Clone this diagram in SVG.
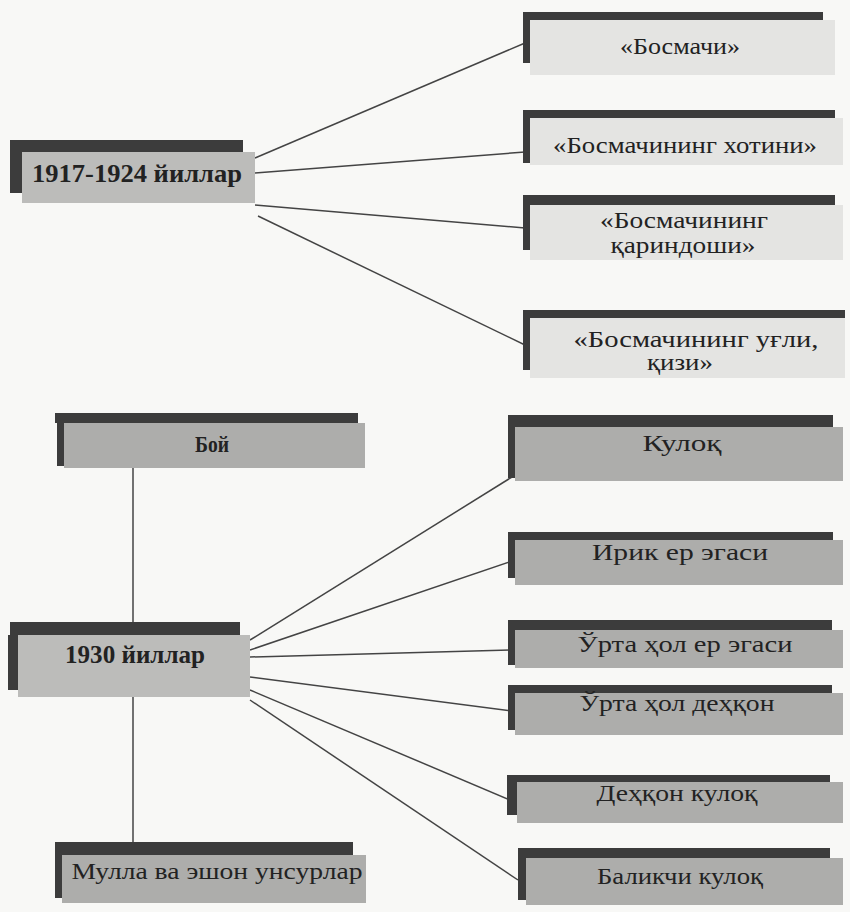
<svg xmlns="http://www.w3.org/2000/svg" width="850" height="912" viewBox="0 0 850 912">
<style>
.bg{fill:#f8f8f6}
.bar{fill:#3c3c3c}
.lite{fill:#e4e4e2}
.mid{fill:#bcbcba}
.dark{fill:#adadab}
.t{font-family:"Liberation Serif","Times New Roman",serif;font-size:23px;fill:#222;text-anchor:middle}
.b{font-weight:bold;font-size:25px}
.c{stroke:#444;stroke-width:1.5;fill:none}
</style>
<rect class="bg" x="0" y="0" width="850" height="912"/>
<g id="connectors">
<line class="c" x1="255" y1="158" x2="525" y2="43"/>
<line class="c" x1="255" y1="173" x2="525" y2="152"/>
<line class="c" x1="255" y1="205" x2="525" y2="228"/>
<line class="c" x1="258" y1="216" x2="525" y2="345"/>
<line class="c" x1="133" y1="468" x2="133" y2="622"/>
<line class="c" x1="133" y1="697" x2="133" y2="845"/>
<line class="c" x1="250" y1="640" x2="512" y2="477"/>
<line class="c" x1="250" y1="650" x2="512" y2="561"/>
<line class="c" x1="250" y1="657" x2="512" y2="650"/>
<line class="c" x1="250" y1="677" x2="512" y2="711"/>
<line class="c" x1="250" y1="690" x2="510" y2="800"/>
<line class="c" x1="250" y1="700" x2="518" y2="880"/>
</g>
<g id="n1917">
<rect class="bar" x="10" y="140" width="233" height="12"/>
<rect class="bar" x="10" y="152" width="12" height="41"/>
<rect class="mid" x="22" y="152" width="233" height="51"/>
<text class="t b" x="137" y="182" textLength="210" lengthAdjust="spacingAndGlyphs">1917-1924 йиллар</text>
</g>
<g id="bosmachi">
<rect class="bar" x="523" y="12" width="300" height="8"/>
<rect class="bar" x="523" y="20" width="7" height="43"/>
<rect class="lite" x="530" y="20" width="305" height="55"/>
<text class="t" x="680" y="54" textLength="120" lengthAdjust="spacingAndGlyphs">«Босмачи»</text>
</g>
<g id="xotini">
<rect class="bar" x="523" y="110" width="312" height="8"/>
<rect class="bar" x="523" y="118" width="7" height="45"/>
<rect class="lite" x="530" y="118" width="313" height="47"/>
<text class="t" x="685" y="153" textLength="264" lengthAdjust="spacingAndGlyphs">«Босмачининг хотини»</text>
</g>
<g id="qarindoshi">
<rect class="bar" x="523" y="195" width="312" height="10"/>
<rect class="bar" x="523" y="205" width="7" height="45"/>
<rect class="lite" x="530" y="205" width="313" height="55"/>
<text class="t" x="684" y="228" textLength="168" lengthAdjust="spacingAndGlyphs">«Босмачининг</text>
<text class="t" x="683" y="253" textLength="145" lengthAdjust="spacingAndGlyphs">қариндоши»</text>
</g>
<g id="ugli">
<rect class="bar" x="523" y="310" width="322" height="8"/>
<rect class="bar" x="523" y="318" width="7" height="52"/>
<rect class="lite" x="530" y="318" width="315" height="60"/>
<text class="t" x="696" y="347" textLength="245" lengthAdjust="spacingAndGlyphs">«Босмачининг уғли,</text>
<text class="t" x="680" y="370" textLength="66" lengthAdjust="spacingAndGlyphs">қизи»</text>
</g>
<g id="boy">
<rect class="bar" x="55" y="413" width="303" height="10"/>
<rect class="bar" x="57" y="423" width="9" height="43"/>
<rect class="dark" x="64" y="423" width="301" height="45"/>
<text class="t" x="212" y="452" font-weight="bold" textLength="34" lengthAdjust="spacingAndGlyphs">Бой</text>
</g>
<g id="n1930">
<rect class="bar" x="10" y="622" width="230" height="13"/>
<rect class="bar" x="8" y="635" width="10" height="55"/>
<rect class="mid" x="18" y="635" width="232" height="62"/>
<text class="t b" x="135" y="663" textLength="140" lengthAdjust="spacingAndGlyphs">1930 йиллар</text>
</g>
<g id="mulla">
<rect class="bar" x="55" y="842" width="298" height="13"/>
<rect class="bar" x="55" y="855" width="8" height="43"/>
<rect class="dark" x="62" y="855" width="304" height="48"/>
<text class="t" x="217" y="879" textLength="291" lengthAdjust="spacingAndGlyphs">Мулла ва эшон унсурлар</text>
</g>
<g id="qulok">
<rect class="bar" x="508" y="415" width="325" height="12"/>
<rect class="bar" x="508" y="427" width="10" height="51"/>
<rect class="dark" x="515" y="427" width="328" height="54"/>
<text class="t" x="682" y="451" textLength="79" lengthAdjust="spacingAndGlyphs">Кулоқ</text>
</g>
<g id="irik">
<rect class="bar" x="508" y="532" width="325" height="8"/>
<rect class="bar" x="508" y="540" width="9" height="38"/>
<rect class="dark" x="515" y="540" width="328" height="45"/>
<text class="t" x="680" y="560" textLength="176" lengthAdjust="spacingAndGlyphs">Ирик ер эгаси</text>
</g>
<g id="urtaer">
<rect class="bar" x="508" y="620" width="324" height="10"/>
<rect class="bar" x="508" y="630" width="10" height="35"/>
<rect class="dark" x="515" y="630" width="328" height="38"/>
<text class="t" x="685" y="652" textLength="215" lengthAdjust="spacingAndGlyphs">Ўрта ҳол ер эгаси</text>
</g>
<g id="urtadehqon">
<rect class="bar" x="508" y="685" width="324" height="8"/>
<rect class="bar" x="508" y="693" width="10" height="37"/>
<rect class="dark" x="515" y="693" width="328" height="42"/>
<text class="t" x="677" y="711" textLength="195" lengthAdjust="spacingAndGlyphs">Ўрта ҳол деҳқон</text>
</g>
<g id="dehqonqulok">
<rect class="bar" x="507" y="775" width="323" height="7"/>
<rect class="bar" x="507" y="782" width="10" height="33"/>
<rect class="dark" x="517" y="782" width="326" height="41"/>
<text class="t" x="677" y="801" textLength="161" lengthAdjust="spacingAndGlyphs">Деҳқон кулоқ</text>
</g>
<g id="baliqchi">
<rect class="bar" x="518" y="848" width="312" height="10"/>
<rect class="bar" x="518" y="858" width="10" height="42"/>
<rect class="dark" x="526" y="858" width="317" height="47"/>
<text class="t" x="680" y="884" textLength="166" lengthAdjust="spacingAndGlyphs">Баликчи кулоқ</text>
</g>
</svg>
